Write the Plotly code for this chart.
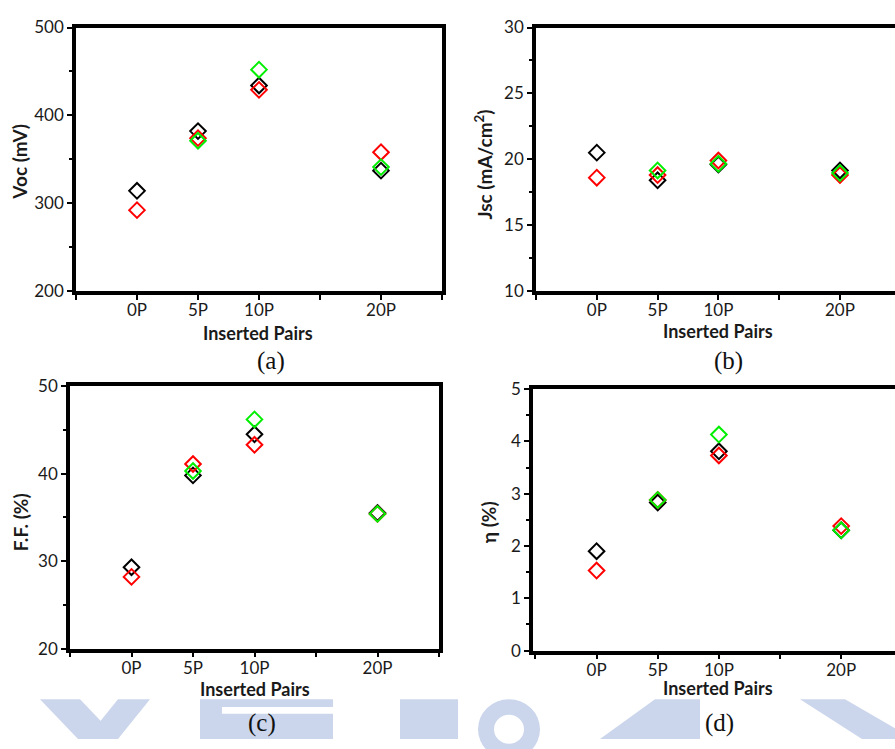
import plotly.graph_objects as go

# Insertion conditions (category positions on the x axis)
pairs = ["0P", "5P", "10P", "20P"]
pair_pos = [0, 1, 2, 4]
tick_vals = [-1, 0, 1, 2, 3, 4, 5]
tick_text = ["", "0P", "5P", "10P", "", "20P", ""]

# Open-circuit voltage (mV)
voc_black = [314, 382, 434, 337]
voc_red = [292, 374, 429, 358]
voc_green = [None, 371, 452, 341]

# Short-circuit current density (mA/cm^2)
jsc_black = [20.5, 18.4, 19.6, 19.15]
jsc_red = [18.6, 18.8, 19.9, 18.8]
jsc_green = [None, 19.15, 19.65, 18.95]

# Fill factor (%)
ff_black = [29.3, 39.8, 44.5, 35.5]
ff_red = [28.2, 41.1, 43.3, 35.4]
ff_green = [None, 40.3, 46.2, 35.4]

# Efficiency (%)
eta_black = [1.9, 2.83, 3.81, 2.3]
eta_red = [1.53, 2.88, 3.73, 2.38]
eta_green = [None, 2.88, 4.13, 2.3]

W, H = 895, 749
colors = ["#000000", "#ff0000", "#00ee00"]

panels = [
    dict(series=[voc_black, voc_red, voc_green], yr=[200, 500], dt=100, mdt=50,
         xpx=(76, 442), ypx=(17, 288), xr=[-1, 5], mirror_y=True),
    dict(series=[jsc_black, jsc_red, jsc_green], yr=[10, 30], dt=5, mdt=2.5,
         xpx=(536, 895), ypx=(17, 288), xr=[-1, 4.905], mirror_y=False),
    dict(series=[ff_black, ff_red, ff_green], yr=[20, 50], dt=10, mdt=5,
         xpx=(70, 439), ypx=(386, 656), xr=[-1, 5], mirror_y=True),
    dict(series=[eta_black, eta_red, eta_green], yr=[0, 5], dt=1, mdt=0.5,
         xpx=(533, 895), ypx=(389, 658), xr=[-1.04, 4.88], mirror_y=False),
]

fig = go.Figure()
tick_font = dict(family="Lato", size=17, color="#1a1a1a")

for i, p in enumerate(panels, start=1):
    xa = "x" if i == 1 else f"x{i}"
    ya = "y" if i == 1 else f"y{i}"
    for ser, col in zip(p["series"], colors):
        fig.add_trace(go.Scatter(
            x=pair_pos, y=ser, mode="markers", xaxis=xa, yaxis=ya,
            showlegend=False, cliponaxis=False,
            marker=dict(symbol="diamond-open", size=12, color=col,
                        line=dict(width=2, color=col)),
        ))
    xd = [p["xpx"][0] / W, p["xpx"][1] / W]
    yd = [1 - p["ypx"][1] / H, 1 - p["ypx"][0] / H]
    xkey = "xaxis" if i == 1 else f"xaxis{i}"
    ykey = "yaxis" if i == 1 else f"yaxis{i}"
    fig.update_layout(**{
        xkey: dict(domain=xd, anchor=ya, range=p["xr"], tickmode="array",
                   tickvals=tick_vals, ticktext=tick_text, ticks="outside",
                   ticklen=5, tickwidth=2, tickcolor="black", showline=True,
                   linewidth=3.5, linecolor="black", mirror=True,
                   showgrid=False, zeroline=False, tickfont=tick_font,
                   ticklabelstandoff=-4),
        ykey: dict(domain=yd, anchor=xa, range=p["yr"], dtick=p["dt"],
                   tick0=p["yr"][0], ticks="outside", ticklen=5, tickwidth=2,
                   tickcolor="black", showline=True, linewidth=3.5,
                   linecolor="black", mirror=p["mirror_y"], showgrid=False,
                   zeroline=False, tickfont=tick_font,
                   minor=dict(dtick=p["mdt"], tick0=p["yr"][0], ticks="outside",
                              ticklen=3, tickwidth=2, tickcolor="black",
                              showgrid=False)),
    })

# Axis titles and panel letters
ann = []
for cx, cy in [(258, 331), (718, 329), (255, 698), (718, 697)]:
    ann.append(dict(text="<b>Inserted Pairs</b>", x=cx / W, y=1 - cy / H,
                    xref="paper", yref="paper", showarrow=False,
                    font=dict(family="Lato", size=18, color="#1a1a1a"),
                    xanchor="center", yanchor="middle"))
for txt, cx, cy in [("<b>Voc (mV)</b>", 20, 155),
                    ("<b>Jsc (mA/cm<sup>2</sup>)</b>", 484, 158),
                    ("<b>F.F. (%)</b>", 20, 526),
                    ("<b>η (%)</b>", 488, 526)]:
    ann.append(dict(text=txt, x=cx / W, y=1 - cy / H, xref="paper",
                    yref="paper", showarrow=False, textangle=-90,
                    font=dict(family="Lato", size=19, color="#1a1a1a"),
                    xanchor="center", yanchor="middle"))
for txt, cx, cy in [("(a)", 271, 360), ("(b)", 728, 360),
                    ("(c)", 262, 733), ("(d)", 719, 733)]:
    ann.append(dict(text=txt, x=cx / W, y=1 - cy / H, xref="paper",
                    yref="paper", showarrow=False,
                    font=dict(family="Liberation Serif", size=25, color="#111"),
                    xanchor="center", yanchor="middle"))

# Pale background emblem along the lower edge of the page
wm_color = "#cbd6ec"
wm_polys = [
    [(40, 708), (80, 708), (118, 749), (78, 749)],
    [(118, 708), (150, 708), (118, 749), (86, 749)],
    [(200, 708), (333, 708), (333, 716), (222, 716), (222, 723),
     (333, 723), (333, 749), (200, 749)],
    [(400, 708), (458, 708), (458, 749), (400, 749)],
    [(600, 749), (655, 708), (700, 708), (700, 749)],
    [(800, 708), (845, 708), (895, 738), (895, 749), (862, 749)],
]
shapes = []
for poly in wm_polys:
    path = "M " + " L ".join(f"{x / W:.5f},{1 - y / H:.5f}" for x, y in poly) + " Z"
    shapes.append(dict(type="path", path=path, xref="paper", yref="paper",
                       fillcolor=wm_color, line=dict(width=0), layer="below"))
# round letter of the emblem
shapes.append(dict(type="circle", xref="paper", yref="paper",
                   x0=478 / W, x1=540 / W, y0=1 - 770 / H, y1=1 - 708 / H,
                   fillcolor=wm_color, line=dict(width=0), layer="below"))
shapes.append(dict(type="circle", xref="paper", yref="paper",
                   x0=494 / W, x1=524 / W, y0=1 - 754 / H, y1=1 - 724 / H,
                   fillcolor="white", line=dict(width=0), layer="below"))

fig.update_layout(width=W, height=H, margin=dict(l=0, r=0, t=0, b=0),
                  paper_bgcolor="white", plot_bgcolor="rgba(0,0,0,0)",
                  annotations=ann, shapes=shapes)

fig.write_html("out.html")
